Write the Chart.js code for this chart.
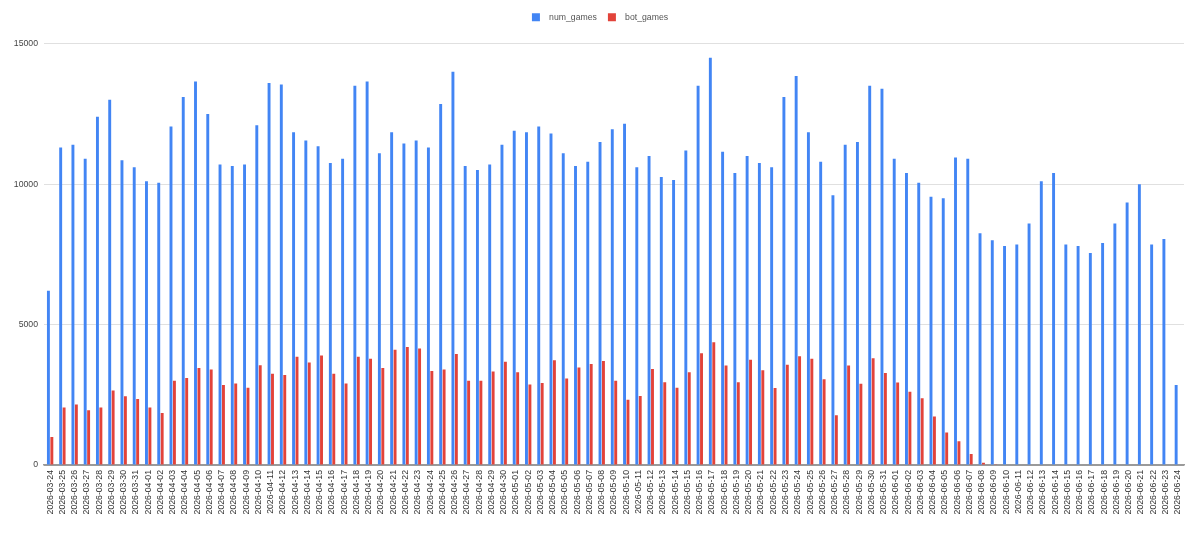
<!DOCTYPE html>
<html>
<head>
<meta charset="utf-8">
<script src="https://cdn.jsdelivr.net/npm/chart.js@4"></script>
<style>
  html, body { margin: 0; padding: 0; background: #fff; }
  #wrap { width: 1200px; height: 533px; }
</style>
</head>
<body>
<div id="wrap"><canvas id="gamesChart" width="1200" height="533"></canvas></div>
<script>
// dates shown on the x axis
const days = [
  '2026-03-24','2026-03-25','2026-03-26','2026-03-27','2026-03-28','2026-03-29','2026-03-30','2026-03-31',
  '2026-04-01','2026-04-02','2026-04-03','2026-04-04','2026-04-05','2026-04-06','2026-04-07','2026-04-08',
  '2026-04-09','2026-04-10','2026-04-11','2026-04-12','2026-04-13','2026-04-14','2026-04-15','2026-04-16',
  '2026-04-17','2026-04-18','2026-04-19','2026-04-20','2026-04-21','2026-04-22','2026-04-23','2026-04-24',
  '2026-04-25','2026-04-26','2026-04-27','2026-04-28','2026-04-29','2026-04-30','2026-05-01','2026-05-02',
  '2026-05-03','2026-05-04','2026-05-05','2026-05-06','2026-05-07','2026-05-08','2026-05-09','2026-05-10',
  '2026-05-11','2026-05-12','2026-05-13','2026-05-14','2026-05-15','2026-05-16','2026-05-17','2026-05-18',
  '2026-05-19','2026-05-20','2026-05-21','2026-05-22','2026-05-23','2026-05-24','2026-05-25','2026-05-26',
  '2026-05-27','2026-05-28','2026-05-29','2026-05-30','2026-05-31','2026-06-01','2026-06-02','2026-06-03',
  '2026-06-04','2026-06-05','2026-06-06','2026-06-07','2026-06-08','2026-06-09','2026-06-10','2026-06-11',
  '2026-06-12','2026-06-13','2026-06-14','2026-06-15','2026-06-16','2026-06-17','2026-06-18','2026-06-19',
  '2026-06-20','2026-06-21','2026-06-22','2026-06-23','2026-06-24'
];

const numGames = [
  6200, 11300, 11400, 10900, 12400, 13000, 10850, 10600,
  10100, 10050, 12050, 13100, 13650, 12500, 10700, 10650,
  10700, 12100, 13600, 13550, 11850, 11550, 11350, 10750,
  10900, 13500, 13650, 11100, 11850, 11450, 11550, 11300,
  12850, 14000, 10650, 10500, 10700, 11400, 11900, 11850,
  12050, 11800, 11100, 10650, 10800, 11500, 11950, 12150,
  10600, 11000, 10250, 10150, 11200, 13500, 14500, 11150,
  10400, 11000, 10750, 10600, 13100, 13850, 11850, 10800,
  9600, 11400, 11500, 13500, 13400, 10900, 10400, 10050,
  9550, 9500, 10950, 10900, 8250, 8000, 7800, 7850,
  8600, 10100, 10400, 7850, 7800, 7550, 7900, 8600,
  9350, 10000, 7850, 8050, 2850
];

const botGames = [
  1000, 2050, 2150, 1950, 2050, 2650, 2450, 2350,
  2050, 1850, 3000, 3100, 3450, 3400, 2850, 2900,
  2750, 3550, 3250, 3200, 3850, 3650, 3900, 3250,
  2900, 3850, 3780, 3450, 4100, 4200, 4150, 3350,
  3400, 3950, 3000, 3000, 3330, 3680, 3300, 2870,
  2920, 3730, 3080, 3470, 3600, 3700, 3000, 2320,
  2460, 3420, 2950, 2750, 3300, 3980, 4370, 3540,
  2950, 3750, 3370, 2740, 3570, 3870, 3780, 3050,
  1770, 3540, 2890, 3800, 3280, 2940, 2610, 2380,
  1730, 1160, 850, 390, 80, 30, 0, 0,
  0, 15, 20, 0, 0, 0, 0, 0,
  0, 0, 0, 0, 0
];

const yTicks = [0, 5000, 10000, 15000];

const FONT = 'Arial, "Liberation Sans", sans-serif';

// push the plot area down a little below the legend
const legendGap = {
  id: 'legendGap',
  beforeInit(chart) {
    const origFit = chart.legend.fit;
    chart.legend.fit = function () {
      origFit.bind(chart.legend)();
      this.height += 12;
    };
  }
};

new Chart(document.getElementById('gamesChart'), {
  type: 'bar',
  data: {
    labels: days,
    datasets: [
      {
        label: 'num_games',
        data: numGames,
        backgroundColor: '#4285f4',
        categoryPercentage: 0.56,
        barPercentage: 0.85
      },
      {
        label: 'bot_games',
        data: botGames,
        backgroundColor: '#e2433a',
        categoryPercentage: 0.56,
        barPercentage: 0.85
      }
    ]
  },
  plugins: [legendGap],
  options: {
    responsive: false,
    animation: false,
    layout: { padding: { top: 2, right: 0, left: 0, bottom: 0 } },
    plugins: {
      tooltip: { enabled: false },
      legend: {
        position: 'top',
        labels: {
          boxWidth: 8,
          boxHeight: 8,
          padding: 11,
          color: '#555',
          font: { family: FONT, size: 8.7 },
          // a bit more room between the colour box and its text
          generateLabels(chart) {
            return Chart.defaults.plugins.legend.labels.generateLabels(chart)
              .map(item => Object.assign(item, { text: '  ' + item.text }));
          }
        }
      }
    },
    scales: {
      x: {
        grid: { display: false, drawTicks: false },
        border: { display: true, color: '#9a9a9a', width: 1.5 },
        ticks: {
          autoSkip: false,
          minRotation: 90,
          maxRotation: 90,
          padding: 5,
          color: '#333',
          font: { family: FONT, size: 8.7 }
        },
        afterFit(scale) { scale.height = 68; }
      },
      y: {
        min: 0,
        max: 15000,
        afterBuildTicks(scale) { scale.ticks = yTicks.map(v => ({ value: v })); },
        grid: {
          color: ctx => (ctx.tick && ctx.tick.value === 0) ? '#9a9a9a' : '#e0e0e0',
          drawTicks: false
        },
        border: { display: false },
        ticks: {
          padding: 6,
          color: '#444',
          font: { family: FONT, size: 8.7 },
          callback: v => String(v)
        },
        afterFit(scale) { scale.width = 44; }
      },
      // empty strip on the right so the legend stays centred on the page
      yRight: {
        position: 'right',
        grid: { display: false, drawTicks: false },
        border: { display: false },
        ticks: { display: false },
        afterFit(scale) { scale.width = 16; }
      }
    }
  }
});
</script>
</body>
</html>
